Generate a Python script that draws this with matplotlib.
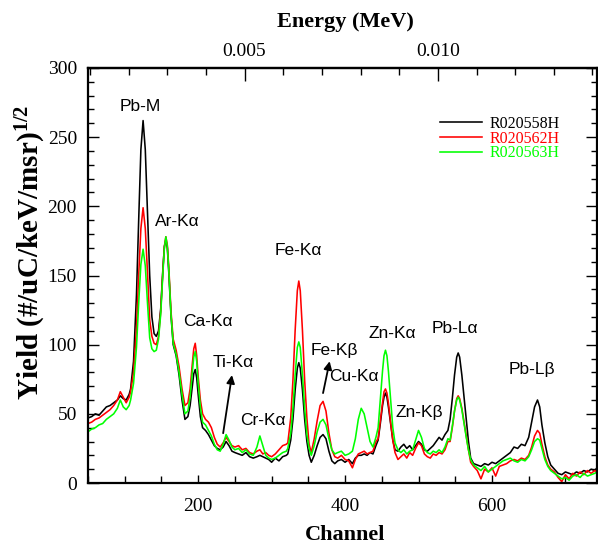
import matplotlib
matplotlib.use("Agg")
import matplotlib.pyplot as plt
from matplotlib.ticker import MultipleLocator, FixedLocator, FormatStrFormatter

plt.rcParams['font.family'] = ['Liberation Serif', 'DejaVu Serif']
plt.rcParams['mathtext.default'] = 'regular'

# channel positions
channel = [50, 55, 60, 65, 70, 75, 80, 85, 90, 94, 98, 102, 106,
           108, 112, 116, 119, 122, 125, 128, 131, 134, 137, 140, 143,
           146, 149, 152, 154, 156, 158, 160, 163, 166, 170, 174, 178, 182,
           186, 189, 192, 194, 196, 198, 200, 203, 206, 210, 214, 218, 222, 226,
           230, 234, 238, 242, 246, 250, 255, 260, 265, 270, 275, 280, 284, 288, 292, 296, 300, 305, 310, 315, 320,
           322, 326, 329, 332, 335, 337, 339, 342, 345, 348, 351, 354,
           358, 362, 366, 370, 374, 378, 382, 386,
           390, 395, 400, 405, 410, 414, 418, 422, 426, 430, 434, 438, 442,
           445, 448, 451, 453, 455, 457, 459, 462, 465, 468, 472,
           476, 480, 484, 488, 492, 496, 500, 504, 508, 512, 516, 520, 524, 528, 532, 536, 540,
           543, 546, 549, 552, 554, 556, 559, 562, 565, 568, 571, 575,
           580, 585, 590, 595, 600, 605, 610, 615, 620, 625, 630, 635, 640, 645,
           650, 654, 658, 662, 665, 668, 672, 676, 680, 685,
           690, 695, 700, 705, 710, 715, 720, 725, 730, 735, 740, 743]

r020558h = [47, 48, 50, 49, 52, 55, 56, 58, 60, 63, 61, 60, 64,
            68, 88, 136, 190, 241, 262, 241, 195, 150, 120, 108, 106,
            110, 126, 155, 171, 176, 170, 152, 121, 100, 92, 78, 60, 46,
            48, 56, 70, 79, 82, 76, 64, 48, 40, 38, 35, 31, 27, 25,
            24, 26, 30, 27, 23, 22, 21, 20, 22, 19, 18, 19, 20, 19, 18, 17, 15, 18, 16, 19, 20,
            21, 31, 46, 67, 83, 87, 83, 67, 46, 30, 20, 15,
            20, 27, 33, 35, 32, 23, 16, 14,
            16, 17, 15, 17, 14, 18, 20, 20, 21, 20, 22, 21, 27,
            31, 43, 56, 62, 65, 62, 55, 43, 31, 24, 23,
            26, 28, 25, 27, 24, 27, 30, 28, 24, 23, 25, 27, 30, 33, 31, 35, 38,
            46, 61, 78, 91, 94, 91, 78, 62, 46, 30, 18, 14,
            13, 12, 14, 13, 15, 14, 16, 18, 20, 22, 26, 25, 28, 27,
            33, 44, 55, 60, 55, 42, 29, 19, 13, 10,
            7, 6, 8, 7, 6, 8, 7, 9, 8, 10, 9, 11]

r020562h = [43, 44, 46, 47, 49, 51, 53, 56, 60, 66, 62, 58, 62,
            66, 80, 112, 150, 184, 199, 184, 152, 118, 106, 101, 100,
            106, 124, 154, 171, 178, 172, 156, 124, 104, 96, 84, 68, 56,
            58, 68, 86, 97, 101, 92, 77, 60, 50, 46, 44, 40, 33, 28,
            26, 29, 33, 30, 27, 26, 27, 24, 25, 22, 21, 23, 24, 21, 22, 20, 19, 21, 24, 27, 28,
            29, 47, 74, 110, 139, 146, 139, 110, 74, 47, 28, 22,
            32, 45, 56, 59, 52, 36, 24, 19,
            18, 20, 17, 16, 11, 17, 21, 22, 23, 21, 22, 23, 30,
            32, 45, 58, 66, 68, 65, 58, 44, 31, 22, 17,
            19, 21, 18, 22, 20, 25, 29, 27, 21, 19, 18, 21, 20, 22, 21, 24, 30,
            30, 40, 52, 61, 63, 61, 54, 44, 34, 24, 15, 12,
            9, 3, 10, 8, 11, 5, 12, 13, 14, 16, 17, 16, 18, 17,
            20, 26, 34, 38, 36, 28, 19, 13, 10, 8,
            4, 1, 6, 3, 7, 5, 8, 6, 9, 7, 9, 8]

r020563h = [37, 39, 40, 42, 43, 46, 48, 50, 54, 60, 55, 53, 56,
            60, 72, 98, 130, 158, 169, 157, 130, 105, 97, 95, 96,
            104, 122, 152, 170, 178, 171, 154, 122, 101, 93, 80, 64, 50,
            52, 62, 80, 91, 95, 88, 72, 55, 44, 42, 38, 34, 28, 24,
            23, 28, 35, 31, 26, 24, 25, 22, 24, 21, 20, 26, 34, 27, 20, 18, 17, 18, 20, 22, 23,
            25, 36, 54, 78, 98, 102, 98, 78, 54, 35, 25, 20,
            27, 37, 44, 46, 42, 32, 24, 21,
            22, 23, 20, 21, 23, 32, 46, 54, 50, 40, 30, 26, 33,
            40, 60, 81, 92, 96, 92, 81, 60, 40, 29, 24,
            22, 24, 21, 23, 24, 31, 38, 33, 25, 22, 21, 23, 22, 24, 22, 26, 32,
            31, 41, 52, 60, 62, 60, 53, 43, 33, 24, 17, 13,
            11, 9, 12, 8, 10, 12, 14, 16, 17, 18, 16, 15, 17, 16,
            19, 24, 30, 32, 31, 25, 17, 12, 9, 7,
            5, 3, 4, 2, 5, 6, 4, 7, 5, 6, 7, 8]

series_names = ['R020558H', 'R020562H', 'R020563H']
series_colors = ['black', '#ff0000', '#00ff00']

# peak labels: (text, channel, yield)
peak_labels = [('Pb-M', 121, 272), ('Ar-Kα', 171, 189), ('Ca-Kα', 213, 117),
               ('Ti-Kα', 248, 87), ('Cr-Kα', 288, 45), ('Fe-Kα', 337, 168),
               ('Fe-Kβ', 385, 96), ('Cu-Kα', 412, 77), ('Zn-Kα', 464, 108),
               ('Zn-Kβ', 501, 51), ('Pb-Lα', 550, 112), ('Pb-Lβ', 655, 82)]
# arrows: (tail channel, tail yield, head channel, head yield)
arrows = [(234, 36, 246, 78), (370, 65, 379, 88)]

MEV_PER_CH = 1.9e-5

fig = plt.figure(figsize=(5.98, 5.44), dpi=100)
ax = fig.add_axes([88 / 598, 61 / 544, 509 / 598, 415 / 544])

for ys, name, col in zip([r020558h, r020562h, r020563h], series_names, series_colors):
    ax.plot(channel, ys, color=col, lw=1.15, label=name)

ax.set_xlim(50, 743)
ax.set_ylim(0, 300)

ax.xaxis.set_major_locator(FixedLocator([200, 400, 600]))
ax.xaxis.set_minor_locator(MultipleLocator(50))
ax.yaxis.set_major_locator(MultipleLocator(50))
ax.yaxis.set_minor_locator(MultipleLocator(10))
ax.tick_params(which='both', direction='in', right=True, top=False, labelsize=14, width=1)
ax.tick_params(axis='y', which='major', length=8, pad=8)
ax.tick_params(axis='y', which='minor', length=4)
ax.tick_params(axis='x', which='major', length=6, pad=11)
ax.tick_params(axis='x', which='minor', length=5)
for sp in ax.spines.values():
    sp.set_linewidth(1.6)

sec = ax.secondary_xaxis('top', functions=(lambda c: c * MEV_PER_CH, lambda e: e / MEV_PER_CH))
sec.xaxis.set_major_locator(FixedLocator([0.005, 0.010]))
sec.xaxis.set_minor_locator(MultipleLocator(0.001))
sec.xaxis.set_major_formatter(FormatStrFormatter('%.3f'))
sec.tick_params(which='both', direction='in', labelsize=14, width=1, pad=6)
sec.tick_params(which='major', length=9)
sec.tick_params(which='minor', length=5)
sec.spines['top'].set_linewidth(1.6)

for txt, cx, cy in peak_labels:
    ax.text(cx, cy, txt, ha='center', va='center', fontsize=12.5,
            family=['Liberation Sans', 'DejaVu Sans'])
for x0, y0, x1, y1 in arrows:
    ax.annotate('', xy=(x1, y1), xytext=(x0, y0),
                arrowprops=dict(arrowstyle='-|>', color='black', lw=1.3,
                                mutation_scale=12, shrinkA=0, shrinkB=0))

leg = ax.legend(loc='upper left', bbox_to_anchor=((440 - 88) / 509, (483 - 116) / 415),
                frameon=False, fontsize=11.5, handlelength=2.6, handletextpad=0.5,
                labelspacing=-0.08, borderpad=0, borderaxespad=0)
for t, col in zip(leg.get_texts(), series_colors):
    t.set_color(col)

fig.text(345 / 598, 1 - 22 / 544, 'Energy (MeV)', ha='center', va='center',
         fontsize=16, fontweight='bold')
fig.text(345 / 598, 1 - 535 / 544, 'Channel', ha='center', va='center',
         fontsize=16, fontweight='bold')
fig.text(31 / 598, 1 - 252 / 544, 'Yield (#/uC/keV/msr)$^{1/2}$', ha='center', va='center',
         rotation=90, fontsize=21, fontweight='bold')

fig.savefig('out.png', dpi=100)
